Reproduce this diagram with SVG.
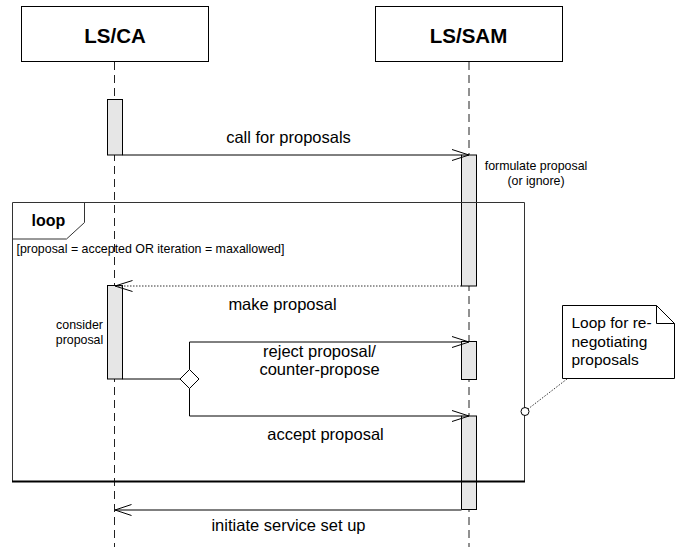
<svg xmlns="http://www.w3.org/2000/svg" width="688" height="547" viewBox="0 0 688 547">
<style>
text{font-family:"Liberation Sans",Arial,sans-serif;fill:#000}
.box{fill:#fff;stroke:#000;stroke-width:1}
.life{stroke:#222;stroke-width:1;stroke-dasharray:8,5;fill:none}
.bar{fill:#e6e6e6;stroke:#000;stroke-width:1}
.msg{stroke:#000;stroke-width:1;fill:none}
.ret{stroke:#333;stroke-width:1;stroke-dasharray:1.5,1.5;fill:none}
.head{stroke:#000;stroke-width:1;fill:none}
.frame{stroke:#333;stroke-width:1;fill:none}
.title{font-size:20.5px;font-weight:bold;text-anchor:middle}
.lbl{font-size:16.5px;text-anchor:middle}
.small{font-size:12.4px}
</style>
<g id="lifeline-lsca">
<line class="life" x1="114.5" y1="62" x2="114.5" y2="547"/>
<rect class="box" x="21.5" y="6.5" width="187" height="55"/>
<text class="title" x="115" y="42.5">LS/CA</text>
<rect class="bar" x="107.5" y="99.5" width="15" height="55.5"/>
<rect class="bar" x="107.5" y="285.5" width="15" height="93.5"/>
<text class="small" x="79.5" y="328.5" text-anchor="middle">consider</text>
<text class="small" x="79.5" y="343.5" text-anchor="middle">proposal</text>
</g>
<g id="lifeline-lssam">
<line class="life" x1="469" y1="62" x2="469" y2="547"/>
<rect class="box" x="375.5" y="6.5" width="187" height="55"/>
<text class="title" x="468.5" y="42.5">LS/SAM</text>
<rect class="bar" x="461.5" y="155" width="15" height="131"/>
<rect class="bar" x="461.5" y="341.5" width="15" height="38"/>
<rect class="bar" x="461.5" y="416" width="15" height="93.5"/>
<text class="small" x="536" y="169.5" text-anchor="middle">formulate proposal</text>
<text class="small" x="536" y="185" text-anchor="middle">(or ignore)</text>
</g>
<g id="loop-frame">
<path class="frame" d="M12.5,202.5 H524.5 V481.5"/>
<path class="frame" d="M12.5,202.5 V481.5"/>
<line x1="12" y1="481.5" x2="525" y2="481.5" stroke="#000" stroke-width="2"/>
<path class="frame" d="M12.5,239 H66.5 L84.5,222.5 V202.5"/>
<text x="31.5" y="226" font-size="16px" font-weight="bold">loop</text>
<text class="small" x="16.5" y="253">[proposal = accepted OR iteration = maxallowed]</text>
</g>
<g id="note">
<path d="M562.5,305.5 H656.5 L674.5,323.5 V378.5 H562.5 Z" fill="#fff" stroke="#000" stroke-width="1"/>
<path d="M656.5,305.5 V323.5 H674.5" fill="none" stroke="#000" stroke-width="1"/>
<text x="571.5" y="328" font-size="15.5px">Loop for re-</text>
<text x="571.5" y="346.5" font-size="15.5px">negotiating</text>
<text x="571.5" y="365" font-size="15.5px">proposals</text>
</g>
<g id="connectors">
<line class="msg" x1="122.5" y1="155" x2="461.5" y2="155"/>
<polyline class="head" points="452,149.5 469,155 452,160.5"/>
<text class="lbl" x="288.5" y="142.5">call for proposals</text>
<line class="ret" x1="461.5" y1="286" x2="116" y2="286"/>
<polyline class="head" points="132.5,280.5 115,286 132.5,291.5"/>
<text class="lbl" x="282.5" y="310">make proposal</text>
<line class="msg" x1="122.5" y1="379" x2="180" y2="379"/>
<polygon points="180,379 189.5,369.5 199,379 189.5,388.5" fill="#fff" stroke="#000" stroke-width="1"/>
<path class="msg" d="M189.5,369.5 V342 H461.5"/>
<polyline class="head" points="452,336.5 469,342 452,347.5"/>
<text class="lbl" x="319.5" y="357">reject proposal/</text>
<text class="lbl" x="319.5" y="375">counter-propose</text>
<path class="msg" d="M189.5,388.5 V416 H461.5"/>
<polyline class="head" points="452,410.5 469,416 452,421.5"/>
<text class="lbl" x="325.5" y="440">accept proposal</text>
<line x1="461.5" y1="510" x2="115" y2="510" stroke="#555" stroke-width="1.5"/>
<polyline class="head" points="131.5,504.5 115,510 131.5,515.5"/>
<text class="lbl" x="288.5" y="531">initiate service set up</text>
<line x1="567" y1="379" x2="528" y2="409" stroke="#333" stroke-width="1" stroke-dasharray="1.5,1.5"/>
<circle cx="525" cy="411.5" r="4" fill="#fff" stroke="#000" stroke-width="1"/>
</g>
</svg>
